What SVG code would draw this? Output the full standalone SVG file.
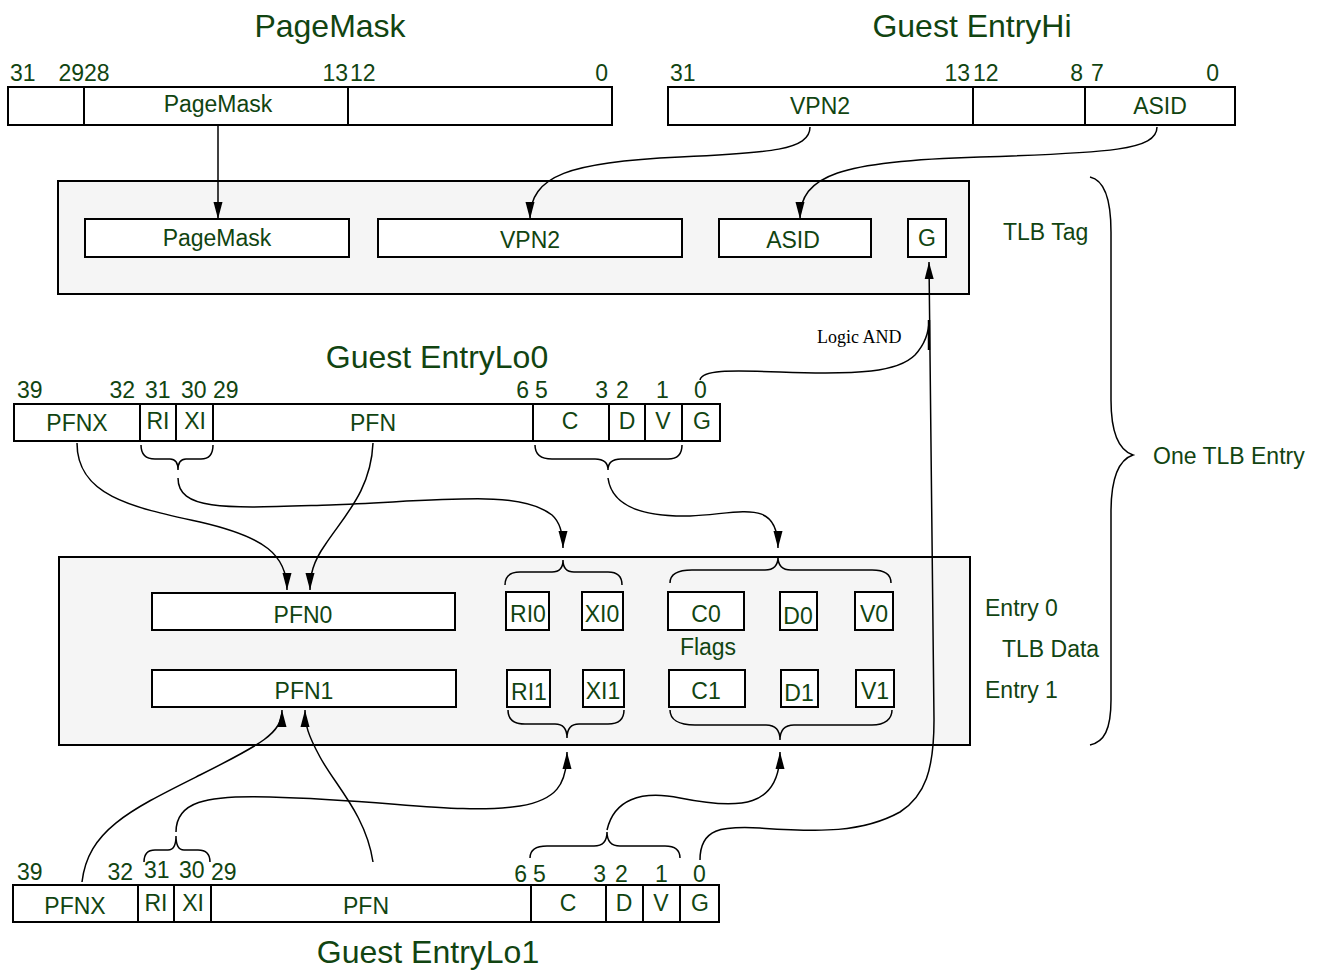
<svg xmlns="http://www.w3.org/2000/svg" width="1323" height="970" viewBox="0 0 1323 970">
<defs>
<style>
text{font-family:"Liberation Sans",Arial,sans-serif;fill:#114411}
.t{font-size:32px;text-anchor:middle}
.f{font-size:23px;text-anchor:middle}
.b{font-size:23px}
.e{text-anchor:end}
.l{font-size:23px}
.box{fill:#fff;stroke:#000;stroke-width:2}
.panel{fill:#f5f5f5;stroke:#000;stroke-width:2}
.ln{fill:none;stroke:#000;stroke-width:1.5}
.br{fill:none;stroke:#000;stroke-width:1.5}
.ser{font-family:"Liberation Serif","Times New Roman",serif;font-size:18px;fill:#000}
</style>
<marker id="ah" markerUnits="userSpaceOnUse" markerWidth="18" markerHeight="10" refX="17" refY="5" orient="auto">
<path d="M0,0.5 L17,5 L0,9.5 z" fill="#000"/>
</marker>
</defs>
<rect width="1323" height="970" fill="#fff"/>

<!-- PageMask register -->
<g id="pagemask-reg">
<text class="t" x="330" y="37">PageMask</text>
<rect class="box" x="8" y="87" width="604" height="38"/>
<line x1="84" y1="87" x2="84" y2="125" stroke="#000" stroke-width="2"/>
<line x1="348" y1="87" x2="348" y2="125" stroke="#000" stroke-width="2"/>
<text class="b" x="10" y="81">31</text>
<text class="b e" x="84" y="81">29</text>
<text class="b" x="84" y="81">28</text>
<text class="b e" x="348" y="81">13</text>
<text class="b" x="350" y="81">12</text>
<text class="b e" x="608" y="81">0</text>
<text class="f" x="218" y="112">PageMask</text>
</g>

<!-- Guest EntryHi register -->
<g id="entryhi-reg">
<text class="t" x="972" y="37">Guest EntryHi</text>
<rect class="box" x="668" y="87" width="567" height="38"/>
<line x1="973" y1="87" x2="973" y2="125" stroke="#000" stroke-width="2"/>
<line x1="1085" y1="87" x2="1085" y2="125" stroke="#000" stroke-width="2"/>
<text class="b" x="670" y="81">31</text>
<text class="b e" x="970" y="81">13</text>
<text class="b" x="973" y="81">12</text>
<text class="b e" x="1083" y="81">8</text>
<text class="b" x="1091" y="81">7</text>
<text class="b e" x="1219" y="81">0</text>
<text class="f" x="820" y="114">VPN2</text>
<text class="f" x="1160" y="114">ASID</text>
</g>

<!-- TLB Tag -->
<g id="tlb-tag">
<rect class="panel" x="58" y="181" width="911" height="113"/>
<rect class="box" x="85" y="219" width="264" height="38"/>
<text class="f" x="217" y="246">PageMask</text>
<rect class="box" x="378" y="219" width="304" height="38"/>
<text class="f" x="530" y="248">VPN2</text>
<rect class="box" x="719" y="219" width="152" height="38"/>
<text class="f" x="793" y="248">ASID</text>
<rect class="box" x="908" y="219" width="38" height="38"/>
<text class="f" x="927" y="246">G</text>
<text class="l" x="1003" y="240">TLB Tag</text>
</g>

<!-- Guest EntryLo0 -->
<g id="entrylo0-reg">
<text class="t" x="437" y="368">Guest EntryLo0</text>
<rect class="box" x="14" y="404" width="706" height="37"/>
<g stroke="#000" stroke-width="2">
<line x1="140" y1="404" x2="140" y2="441"/><line x1="176" y1="404" x2="176" y2="441"/>
<line x1="213" y1="404" x2="213" y2="441"/><line x1="533" y1="404" x2="533" y2="441"/>
<line x1="609" y1="404" x2="609" y2="441"/><line x1="645" y1="404" x2="645" y2="441"/>
<line x1="682" y1="404" x2="682" y2="441"/>
</g>
<text class="b" x="17" y="398">39</text>
<text class="b e" x="135" y="398">32</text>
<text class="b" x="145" y="398">31</text>
<text class="b" x="181" y="398">30</text>
<text class="b" x="213" y="398">29</text>
<text class="b e" x="529" y="398">6</text>
<text class="b" x="535" y="398">5</text>
<text class="b e" x="608" y="398">3</text>
<text class="b" x="616" y="398">2</text>
<text class="b" x="656" y="398">1</text>
<text class="b" x="694" y="398">0</text>
<text class="f" x="77" y="431">PFNX</text>
<text class="f" x="158" y="429">RI</text>
<text class="f" x="195" y="429">XI</text>
<text class="f" x="373" y="431">PFN</text>
<text class="f" x="570" y="429">C</text>
<text class="f" x="627" y="429">D</text>
<text class="f" x="663" y="429">V</text>
<text class="f" x="702" y="429">G</text>
<path class="br" d="M141,445 C141,454 145,459 155,459 L170,459 C175,459 178,462 178,470 C178,462 181,459 186,459 L201,459 C209,459 213,454 213,445"/>
<path class="br" d="M535,445 C535,454 541,459 552,459 L595,459 C603,459 608,462 608,470 C608,462 613,459 621,459 L668,459 C677,459 682,454 682,445"/>
</g>

<!-- TLB Data -->
<g id="tlb-data">
<rect class="panel" x="59" y="557" width="911" height="188"/>
<rect class="box" x="152" y="593" width="303" height="37"/>
<text class="f" x="303" y="623">PFN0</text>
<rect class="box" x="152" y="670" width="304" height="37"/>
<text class="f" x="304" y="699">PFN1</text>
<rect class="box" x="506" y="592" width="43" height="38"/>
<text class="f" x="528" y="622">RI0</text>
<rect class="box" x="582" y="592" width="41" height="38"/>
<text class="f" x="602" y="622">XI0</text>
<rect class="box" x="668" y="592" width="76" height="38"/>
<text class="f" x="706" y="622">C0</text>
<rect class="box" x="780" y="592" width="37" height="38"/>
<text class="f" x="798" y="624">D0</text>
<rect class="box" x="855" y="592" width="38" height="38"/>
<text class="f" x="874" y="622">V0</text>
<text class="f" x="708" y="655">Flags</text>
<rect class="box" x="507" y="670" width="43" height="37"/>
<text class="f" x="529" y="700">RI1</text>
<rect class="box" x="583" y="670" width="41" height="37"/>
<text class="f" x="603" y="699">XI1</text>
<rect class="box" x="669" y="670" width="76" height="37"/>
<text class="f" x="706" y="699">C1</text>
<rect class="box" x="781" y="670" width="37" height="37"/>
<text class="f" x="799" y="701">D1</text>
<rect class="box" x="856" y="670" width="38" height="37"/>
<text class="f" x="875" y="699">V1</text>
<path class="br" d="M505,585 C505,576 510,572 520,572 L552,572 C559,572 563,568 563,560 C563,568 567,572 574,572 L608,572 C617,572 622,576 622,585"/>
<path class="br" d="M670,583 C670,574 678,570 692,570 L765,570 C773,570 778,566 778,557 C778,566 783,570 791,570 L872,570 C884,570 891,574 891,583"/>
<path class="br" d="M508,710 C508,719 513,724 525,724 L555,724 C562,724 567,728 567,738 C567,728 572,724 579,724 L608,724 C619,724 624,719 624,710"/>
<path class="br" d="M670,710 C670,719 678,725 695,725 L766,725 C775,725 780,730 780,740 C780,730 785,725 794,725 L872,725 C885,725 892,719 892,710"/>
<text class="l" x="985" y="616">Entry 0</text>
<text class="l" x="1002" y="657">TLB Data</text>
<text class="l" x="985" y="698">Entry 1</text>
</g>

<!-- Guest EntryLo1 -->
<g id="entrylo1-reg">
<text class="t" x="428" y="963">Guest EntryLo1</text>
<rect class="box" x="13" y="885" width="706" height="37"/>
<g stroke="#000" stroke-width="2">
<line x1="138" y1="885" x2="138" y2="922"/><line x1="174" y1="885" x2="174" y2="922"/>
<line x1="211" y1="885" x2="211" y2="922"/><line x1="531" y1="885" x2="531" y2="922"/>
<line x1="606" y1="885" x2="606" y2="922"/><line x1="643" y1="885" x2="643" y2="922"/>
<line x1="680" y1="885" x2="680" y2="922"/>
</g>
<text class="b" x="17" y="880">39</text>
<text class="b e" x="133" y="880">32</text>
<text class="b" x="144" y="878">31</text>
<text class="b" x="179" y="878">30</text>
<text class="b" x="211" y="880">29</text>
<text class="b e" x="527" y="882">6</text>
<text class="b" x="533" y="882">5</text>
<text class="b e" x="606" y="882">3</text>
<text class="b" x="615" y="882">2</text>
<text class="b" x="655" y="882">1</text>
<text class="b" x="693" y="882">0</text>
<text class="f" x="75" y="914">PFNX</text>
<text class="f" x="156" y="911">RI</text>
<text class="f" x="193" y="911">XI</text>
<text class="f" x="366" y="914">PFN</text>
<text class="f" x="568" y="911">C</text>
<text class="f" x="624" y="911">D</text>
<text class="f" x="661" y="911">V</text>
<text class="f" x="700" y="911">G</text>
<path class="br" d="M144,862 C144,854 147,850 155,850 L168,850 C173,850 176,846 176,836 C176,846 179,850 184,850 L198,850 C206,850 210,854 210,862"/>
<path class="br" d="M530,858 C530,850 536,846 547,846 L594,846 C602,846 607,842 607,832 C607,842 612,846 620,846 L665,846 C675,846 680,850 680,858"/>
</g>

<!-- Right brace -->
<g id="tlb-entry-brace">
<path class="br" d="M1090,177 C1104,180 1111,200 1111,232 L1111,400 C1111,432 1118,450 1133,455 C1118,460 1111,480 1111,512 L1111,700 C1111,730 1104,742 1090,745"/>
<text class="l" x="1153" y="464">One TLB Entry</text>
</g>

<!-- Connectors -->
<g id="connectors">
<path class="ln" d="M218,125 L218,219" marker-end="url(#ah)"/>
<path class="ln" d="M810,127 C810,150 770,153 680,157 C570,162 530,175 530,219" marker-end="url(#ah)"/>
<path class="ln" d="M1157,127 C1157,150 1110,153 980,157 C840,161 800,175 800,219" marker-end="url(#ah)"/>
<path class="ln" d="M77,443 C77,495 130,507 200,522 C265,537 287,555 287,590" marker-end="url(#ah)"/>
<path class="ln" d="M373,443 C371,490 345,515 325,545 C313,562 310,575 310,590" marker-end="url(#ah)"/>
<path class="ln" d="M178,478 C178,512 230,508 330,505 C450,500 520,490 552,515 C561,523 563,535 563,548" marker-end="url(#ah)"/>
<path class="ln" d="M608,478 C612,508 645,517 690,516 C740,514 778,497 778,548" marker-end="url(#ah)"/>
<path class="ln" d="M82,882 C88,830 130,810 200,775 C262,744 282,733 282,710" marker-end="url(#ah)"/>
<path class="ln" d="M373,862 C366,815 335,785 320,757 C308,735 305,725 305,710" marker-end="url(#ah)"/>
<path class="ln" d="M176,832 C176,802 205,795 270,797 C390,800 460,815 520,806 C556,800 567,785 567,752" marker-end="url(#ah)"/>
<path class="ln" d="M607,830 C614,800 640,790 680,798 C740,810 780,808 780,752" marker-end="url(#ah)"/>
<path class="ln" d="M700,860 C700,828 722,826 760,828 C820,832 862,833 900,812 C925,796 934,770 934,720 L929,262" marker-end="url(#ah)"/>
<path class="ln" d="M700,380 C702,370 728,370 780,372 C860,375 898,372 915,355 C925,344 929,332 929,320"/>
<line x1="929" y1="320" x2="929" y2="350" stroke="#000" stroke-width="2.5"/>
<text class="ser" x="817" y="343">Logic AND</text>
</g>
</svg>
